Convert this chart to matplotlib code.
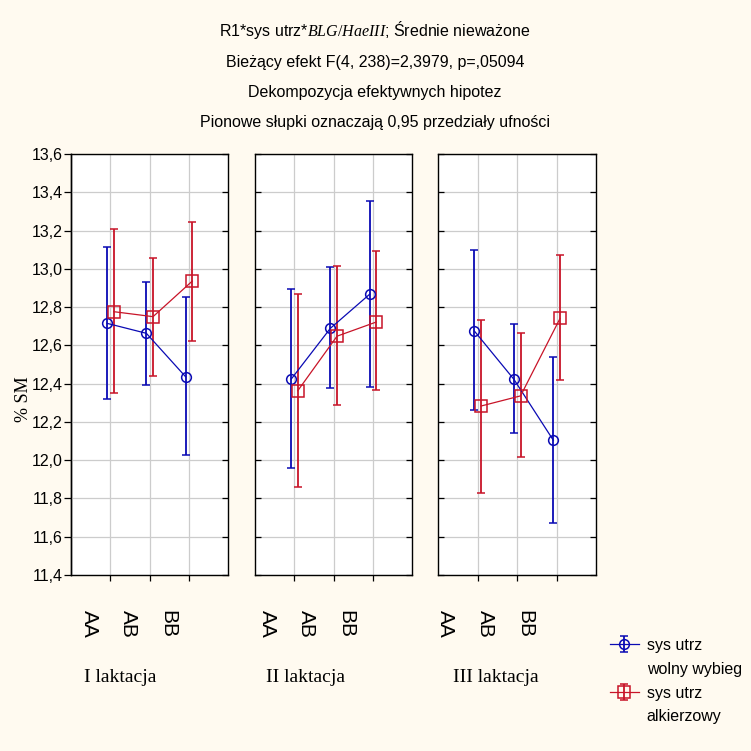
import numpy as np
import matplotlib
matplotlib.use("Agg")
import matplotlib.pyplot as plt
from matplotlib.lines import Line2D

# data
genotypes = ["AA", "AB", "BB"]
lactations = ["I laktacja", "II laktacja", "III laktacja"]
legend_labels = ["sys utrz", "wolny wybieg", "sys utrz", "alkierzowy"]

blue_mean = [[12.715, 12.663, 12.436], [12.423, 12.689, 12.867], [12.675, 12.423, 12.104]]
blue_lo = [[12.32, 12.392, 12.027], [11.958, 12.376, 12.384], [12.262, 12.141, 11.67]]
blue_hi = [[13.116, 12.93, 12.853], [12.893, 13.008, 13.356], [13.098, 12.712, 12.538]]

red_mean = [[12.776, 12.75, 12.936], [12.363, 12.648, 12.722], [12.283, 12.336, 12.741]]
red_lo = [[12.35, 12.438, 12.621], [11.86, 12.287, 12.367], [11.829, 12.017, 12.419]]
red_hi = [[13.207, 13.057, 13.245], [12.867, 13.017, 13.092], [12.731, 12.663, 13.071]]

yticks = np.round(np.arange(11.4, 13.61, 0.2), 1)

plt.rcParams["font.family"] = ["Liberation Sans", "DejaVu Sans"]
plt.rcParams["mathtext.fontset"] = "custom"
plt.rcParams["mathtext.it"] = "Liberation Serif:italic"
plt.rcParams["mathtext.rm"] = "Liberation Serif"

BG = "#fffaf0"
BLUE = "#0a0ab4"
RED = "#c81428"

fig = plt.figure(figsize=(7.51, 7.51), dpi=100, facecolor=BG)

W = 751.0
def px_box(left, top, right, bottom):
    return [left / W, 1 - bottom / W, (right - left) / W, (bottom - top) / W]

panel_px = [(71, 228), (255, 412), (438, 596)]
label_shift = [-21, -27, -32]      # pixel shift of the rotated genotype labels
group_x = [120, 305, 496]

x = np.arange(1, 4)
series = [
    (blue_mean, blue_lo, blue_hi, BLUE, "o", 7, -0.08),
    (red_mean, red_lo, red_hi, RED, "s", 8, 0.09),
]

handles = []
for i, (l, r) in enumerate(panel_px):
    ax = fig.add_axes(px_box(l, 154, r, 575))
    ax.set_facecolor("white")
    ax.set_xlim(0, 4)
    ax.set_ylim(11.4, 13.6)
    ax.set_xticks(x)
    ax.set_xticklabels([])
    ax.set_yticks(yticks)
    ax.set_yticklabels([])
    ax.grid(True, color="#cccccc", lw=0.9)
    ax.set_axisbelow(True)
    for sp in ax.spines.values():
        sp.set_linewidth(1.0)
    ax.tick_params(axis="x", direction="out", length=4, width=0.9)
    ax.tick_params(axis="y", left=(i > 0), right=True, direction="in", length=4, width=0.9)
    if i == 0:
        # outward ticks with the labels on the first panel only
        sec = ax.secondary_yaxis("left")
        sec.set_yticks(yticks)
        sec.set_yticklabels([f"{v:.1f}".replace(".", ",") for v in yticks], fontsize=11.5)
        sec.tick_params(direction="out", length=5, width=0.9, pad=1)
        sec.spines["left"].set_linewidth(1.0)

    for mean, lo, hi, col, mk, ms, dx in series:
        m = np.array(mean[i])
        err = [m - np.array(lo[i]), np.array(hi[i]) - m]
        h = ax.errorbar(x + dx, m, yerr=err, color=col, ecolor=col, lw=0.9,
                        elinewidth=1.3, capsize=3, capthick=1.2, marker=mk, ms=ms,
                        mfc="none", mec=col, mew=1.1)
        if i == 0:
            handles.append(h)

    for j, g in enumerate(genotypes):
        ax.annotate(g, xy=(x[j], 0), xycoords=("data", "axes fraction"),
                    xytext=(label_shift[i], -35), textcoords="offset pixels",
                    rotation=270, ha="center", va="top", fontsize=15,
                    annotation_clip=False)

    fig.text(group_x[i] / W, 1 - 678 / W, lactations[i], ha="center", va="center",
             family="Liberation Serif", fontsize=14)

fig.text(23 / W, 1 - 399 / W, "% SM", rotation=90, ha="center", va="center",
         family="Liberation Serif", fontsize=13)

titles = [
    "R1*sys utrz*$BLG/HaeIII$; Średnie nieważone",
    "Bieżący efekt F(4, 238)=2,3979, p=,05094",
    "Dekompozycja efektywnych hipotez",
    "Pionowe słupki oznaczają 0,95 przedziały ufności",
]
title_y = [30, 63, 93, 123]
for t, yy in zip(titles, title_y):
    fig.text(375 / W, 1 - yy / W, t, ha="center", va="center", fontsize=11.5)

blank = Line2D([], [], linestyle="none")
leg = fig.legend([handles[0], blank, handles[1], blank], legend_labels,
                 loc="upper left", bbox_to_anchor=(610 / W, 1 - 638 / W),
                 frameon=False, fontsize=11.5, handlelength=1.8, handletextpad=0.5,
                 labelspacing=0.55, borderaxespad=0, borderpad=0)

fig.savefig("out.png", dpi=100, facecolor=BG)
